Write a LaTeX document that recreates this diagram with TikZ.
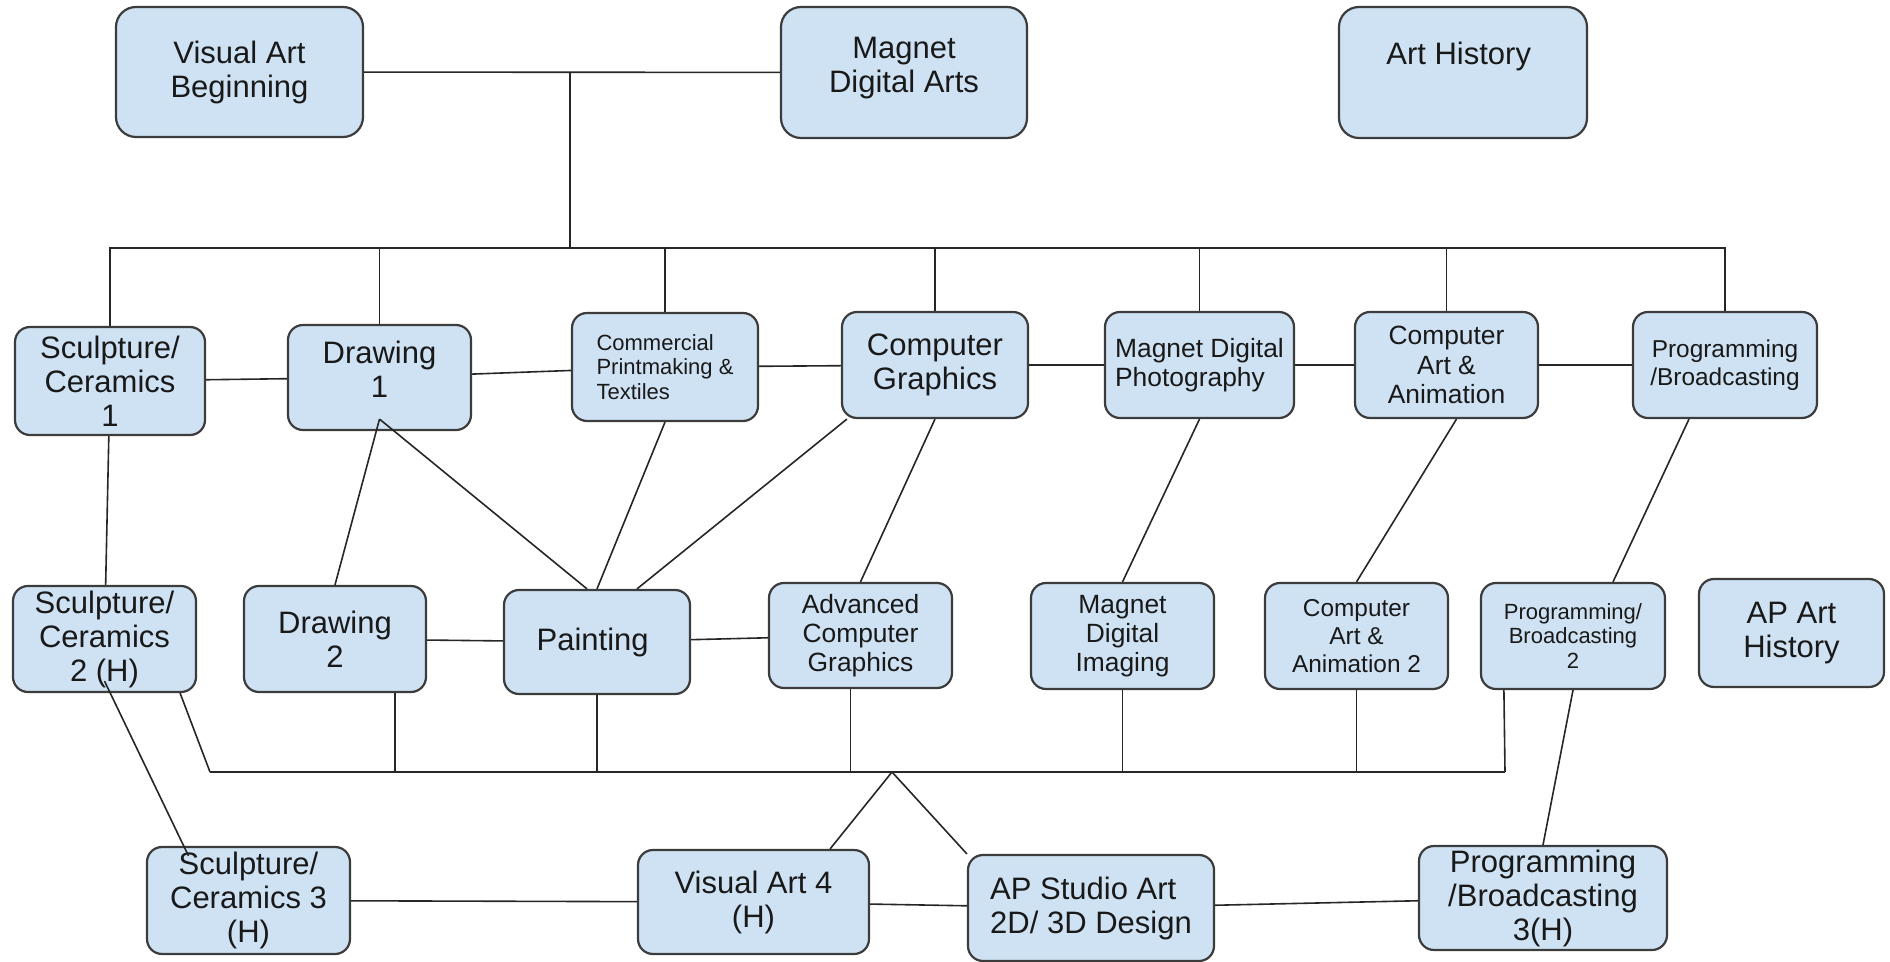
\documentclass[tikz,border=0pt]{standalone}
\usepackage{fontspec}
\setmainfont{Liberation Sans}
\definecolor{boxblue}{HTML}{CFE2F3}
\definecolor{boxline}{HTML}{3C3C3C}
\newcommand{\pad}[1]{\rule[-#1]{0pt}{#1}}

\tikzset{
	block/.style={draw=boxline, line width=1.1pt, fill=boxblue, text=black!90,
		rounded corners=7.5pt, align=center, inner sep=1pt,
		font=\fontsize{15.5}{17}\selectfont},
	block top/.style={rounded corners=10pt},
	block mid/.style={font=\fontsize{13.2}{14.6}\selectfont},
	block small/.style={font=\fontsize{12.2}{14}\selectfont},
	block tiny/.style={font=\fontsize{11}{12.4}\selectfont},
	link/.style={draw=black!85, line width=0.8pt},
}

\begin{document}
\begin{tikzpicture}[x=0.5pt, y=-0.5pt]

		\useasboundingbox (0,0) rectangle (1890,962);

		% Top row
		\node [block, block top, minimum width=123.5pt, minimum height=65pt] (vab) at (239.5,72) {
			Visual Art\\Beginning
		};
		\node [block, block top, minimum width=123pt, minimum height=65.5pt] (mda) at (904,72.5) {
			Magnet\\Digital Arts\pad{7.5pt}
		};
		\node [block, block top, minimum width=124pt, minimum height=65.5pt] (arthist) at (1463,72.5) {
			Art History\pad{19pt}
		};

		% First level
		\node [block, minimum width=95pt, minimum height=54pt] (sc1) at (110,381) {
			Sculpture/\\Ceramics\\1
		};
		\node [block, minimum width=91.5pt, minimum height=52.5pt] (dr1) at (379.5,377.5) {
			Drawing\\1\pad{8pt}
		};
		\node [block, block tiny, align=left, minimum width=93pt, minimum height=54pt] (comm) at (665,367) {
			Commercial\\Printmaking \&\\Textiles
		};
		\node [block, minimum width=93pt, minimum height=53pt] (cg) at (935,365) {
			Computer\\Graphics
		};
		\node [block, block mid, align=left, minimum width=94.5pt, minimum height=53pt] (mdp) at (1199.5,365) {
			Magnet Digital\\Photography
		};
		\node [block, block mid, minimum width=91.5pt, minimum height=53pt] (caa) at (1446.5,365) {
			Computer\\Art \&\\Animation
		};
		\node [block, block small, minimum width=92pt, minimum height=53pt] (pb1) at (1725,365) {
			Programming\\/Broadcasting
		};

		% Second level
		\node [block, minimum width=91.5pt, minimum height=53pt] (sc2) at (104.5,639) {
			Sculpture/\\Ceramics\\2 (H)
		};
		\node [block, minimum width=91pt, minimum height=53pt] (dr2) at (335,639) {
			Drawing\\2
		};
		\node [block, minimum width=93pt, minimum height=52pt] (paint) at (597,642) {
			Painting
		};
		\node [block, block mid, minimum width=91.5pt, minimum height=52.5pt] (acg) at (860.5,635.5) {
			Advanced\\Computer\\Graphics
		};
		\node [block, block mid, minimum width=91.5pt, minimum height=53pt] (mdi) at (1122.5,636) {
			Magnet\\Digital\\Imaging
		};
		\node [block, block small, minimum width=91.5pt, minimum height=53pt] (caa2) at (1356.5,636) {
			Computer\\Art \&\\Animation 2
		};
		\node [block, block tiny, minimum width=92pt, minimum height=53pt] (pb2) at (1573,636) {
			Programming/\\Broadcasting\\2
		};
		\node [block, minimum width=92.5pt, minimum height=54pt] (apah) at (1791.5,633) {
			AP Art\\History
		};

		% Third level
		\node [block, minimum width=101.5pt, minimum height=53.5pt] (sc3) at (248.5,900.5) {
			Sculpture/\\Ceramics 3\\(H)
		};
		\node [block, minimum width=115.5pt, minimum height=52pt] (va4) at (753.5,902) {
			Visual Art 4\\(H)
		};
		\node [block, align=left, minimum width=123pt, minimum height=53pt] (apsa) at (1091,908) {
			AP Studio Art\\2D/ 3D Design
		};
		\node [block, minimum width=124pt, minimum height=52pt] (pb3) at (1543,898) {
			Programming\\/Broadcasting\\3(H)
		};

		% Junctions
		\coordinate (vabjoin) at (570,72);
		\coordinate (topjoin) at (570,248);
		\coordinate (botL) at (210,772);
		\coordinate (botR) at (1505,772);
		\coordinate (apex) at (892,772);

		% Top bus
		\draw [link] (vab) -- (mda);
		\draw [link] (vabjoin) -- (topjoin);
		\foreach \n in {sc1, dr1, comm, cg, mdp, caa, pb1}
			\draw [link] (\n.north) |- (topjoin);

		\foreach \a/\b in {sc1/dr1, dr1/comm, comm/cg, cg/mdp, mdp/caa, caa/pb1}
			\draw [link] (\a) -- (\b);

		% Down to second level
		\draw [link] (sc1) -- (sc2);
		\draw [link] ([yshift=6pt]dr1.south) -- (dr2.north);
		\draw [link] ([yshift=6pt]dr1.south) -- ([xshift=-5pt]paint.north);
		\draw [link] (comm.south) -- (paint.north);
		\draw [link] ([xshift=3pt]cg.south west) -- ([xshift=20pt]paint.north);
		\draw [link] (cg.south) -- (acg.north);
		\draw [link] (mdp.south) -- (mdi.north);
		\draw [link] ([xshift=5pt]caa.south) -- (caa2.north);
		\draw [link] ([xshift=-18pt]pb1.south) -- ([xshift=20pt]pb2.north);

		\draw [link] (dr2) -- (paint);
		\draw [link] (paint) -- (acg);

		% Lower bus
		\draw [link] (botL) -- (botR);
		\draw [link] ([xshift=-8.5pt]sc2.south east) -- (botL);
		\draw [link] ([xshift=30pt]dr2.south) -- ([xshift=30pt]dr2.south |- botL);
		\draw [link] ([xshift=-5pt]acg.south) -- ([xshift=-5pt]acg.south |- botL);
		\foreach \n in {paint, mdi, caa2}
			\draw [link] (\n.south) -- (\n.south |- botL);
		\draw [link] ([xshift=12pt]pb2.south west) -- (botR);
		\draw [link] (apex) -- ([xshift=-20pt]va4.north east);
		\draw [link] (apex) -- (apsa.north west);

		% Third level links
		\draw [link] ([yshift=6pt]sc2.south) -- ([xshift=-30pt,yshift=-5pt]sc3.north);
		\draw [link] (pb2.south) -- (pb3.north);
		\draw [link] (sc3) -- (va4);
		\draw [link] (va4) -- (apsa);
		\draw [link] (apsa) -- (pb3);

	\end{tikzpicture}
\end{document}
